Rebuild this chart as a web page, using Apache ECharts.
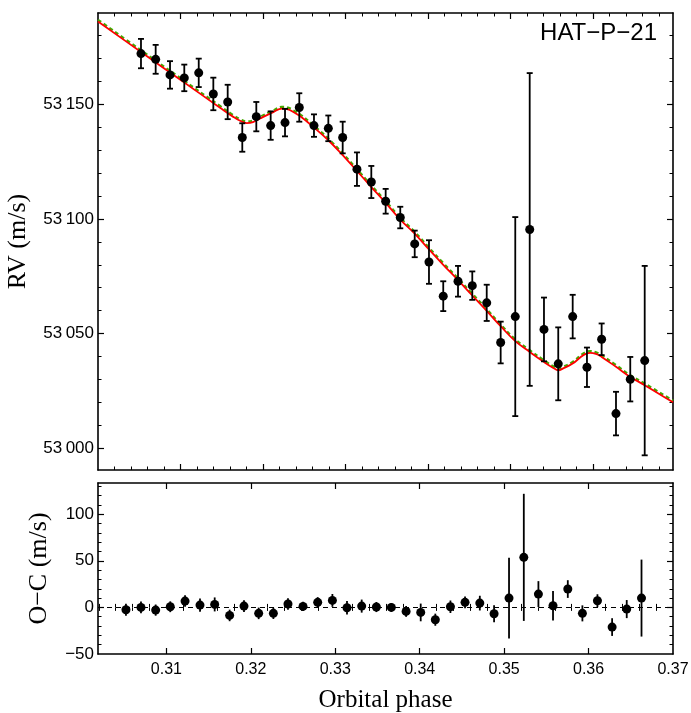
<!DOCTYPE html>
<html>
<head>
<meta charset="utf-8">
<script src="https://cdn.jsdelivr.net/npm/echarts@6/dist/echarts.min.js"></script>
<style>
  html, body { margin: 0; padding: 0; background: #fff; }
  #chart { width: 691px; height: 713px; }
</style>
</head>
<body>
<div id="chart"></div>
<script>
// observations (orbital phase, RV in m/s, 1-sigma error, O-C residual)
const phase = [0.30521, 0.30699, 0.30873, 0.31046, 0.31221, 0.31398, 0.31572, 0.31749, 0.31919,
  0.32093, 0.32267, 0.32440, 0.32618, 0.32792, 0.32966, 0.33139, 0.33313, 0.33487, 0.33664,
  0.33839, 0.34012, 0.34185, 0.34364, 0.34537, 0.34712, 0.34881, 0.35058, 0.35233, 0.35406,
  0.35579, 0.35754, 0.35927, 0.36105, 0.36279, 0.36452, 0.36627]
const rv = [53172.1, 53169.6, 53162.8, 53161.5, 53163.7, 53154.5, 53151.0, 53135.5, 53144.6,
  53140.7, 53142.0, 53148.6, 53140.7, 53139.5, 53135.5, 53121.7, 53116.1, 53107.7, 53100.6,
  53089.1, 53081.2, 53066.3, 53072.8, 53070.9, 53063.4, 53046.1, 53057.4, 53095.4, 53051.8,
  53036.8, 53057.4, 53035.3, 53047.5, 53015.1, 53030.1, 53038.2]
const rvErr = [6.4, 6.3, 6.0, 5.8, 6.2, 7.1, 7.5, 6.2, 6.4,
  6.2, 6.0, 6.2, 4.9, 5.6, 6.9, 7.3, 7.0, 5.4, 4.7,
  5.8, 9.5, 6.5, 6.7, 6.2, 7.9, 9.1, 43.4, 68.2, 13.9,
  15.9, 9.5, 8.6, 6.9, 9.5, 9.7, 41.3]
const oc = [-2.5, 0.0, -2.9, 0.7, 6.8, 2.5, 3.2, -8.6, 1.4,
  -6.4, -6.4, 3.6, 1.1, 5.4, 7.5, -0.4, 1.4, 0.4, 0.0,
  -4.3, -5.4, -13.2, 0.7, 5.4, 4.6, -6.8, 10.0, 53.7, 14.3,
  1.8, 19.7, -6.4, 7.2, -21.1, -1.8, 10.0]

// model curves (red solid, green dashed)
const modelPhase = [0.3000, 0.30509, 0.30994, 0.31479, 0.31640, 0.31721, 0.31802, 0.31879, 0.31964,
  0.32125, 0.32227, 0.32303, 0.32367, 0.32448, 0.32610, 0.32792, 0.32966, 0.33139, 0.33313,
  0.33487, 0.33664, 0.33839, 0.34012, 0.34185, 0.34364, 0.34537, 0.34712, 0.34881, 0.35058,
  0.35233, 0.35406, 0.35519, 0.35579, 0.35640, 0.35754, 0.35883, 0.35964, 0.36045, 0.36105,
  0.36279, 0.36452, 0.36627, 0.36970]
const modelRed = [53186.1, 53173.1, 53160.8, 53148.5, 53144.5, 53142.8, 53141.8, 53142.2, 53143.8,
  53146.6, 53148.1, 53147.8, 53146.6, 53144.9, 53140.1, 53134.3, 53127.8, 53120.9, 53113.9,
  53107.0, 53099.7, 53093.6, 53086.7, 53080.0, 53073.3, 53066.6, 53059.9, 53053.2, 53046.7,
  53042.0, 53037.6, 53035.0, 53034.0, 53034.8, 53036.9, 53040.6, 53041.6, 53041.0, 53039.8,
  53035.5, 53031.1, 53027.5, 53020.0]
const modelGreen = [53186.8, 53173.8, 53161.5, 53149.2, 53145.2, 53143.5, 53142.5, 53142.9, 53144.5,
  53147.3, 53148.8, 53148.5, 53147.3, 53145.6, 53140.8, 53135.0, 53128.5, 53121.6, 53114.6,
  53107.7, 53100.4, 53094.3, 53087.4, 53080.7, 53074.0, 53067.3, 53060.6, 53053.9, 53047.4,
  53042.7, 53038.3, 53035.7, 53034.7, 53035.5, 53037.6, 53041.3, 53042.3, 53041.7, 53040.5,
  53036.2, 53031.8, 53028.2, 53020.7]

// tick labels
const xTicks = [0.31, 0.32, 0.33, 0.34, 0.35, 0.36, 0.37]
const rvTicks = [53000, 53050, 53100, 53150]
const ocTicks = [-50, 0, 50, 100]

const chart = echarts.init(document.getElementById('chart'))

const topX = [0.3000, 0.3697]
const botX = [0.3019, 0.3700]
const topY = [52990.5, 53189.8]
const botY = [-50, 133.5]

const black = '#000'
const labelFont = { color: black, fontFamily: 'Liberation Sans, Arial, sans-serif', fontSize: 16 }

function minorsOf(range, step, majors) {
  const out = []
  for (let k = Math.ceil(range[0] / step - 1e-6); k * step <= range[1] + 1e-9; k++) {
    const v = +(k * step).toFixed(6)
    if (v <= range[0] || v >= range[1]) continue
    if (majors.some(m => Math.abs(m - v) < step / 10)) continue
    out.push(v)
  }
  return out
}
function inRange(vals, range) {
  return vals.filter(v => v > range[0] + 1e-9 && v < range[1] - 1e-9)
}

// major + minor tick axes on both sides of a frame
function frame(gridIndex, range, majors, step, sides, labelOpt, nameOpt) {
  const maj = inRange(majors, range)
  const mins = minorsOf(range, step, majors)
  const base = { type: 'value', gridIndex: gridIndex, min: range[0], max: range[1], splitLine: { show: false } }
  const axes = []
  sides.forEach((pos, i) => {
    axes.push(Object.assign({}, base, {
      position: pos,
      axisLine: { show: true, onZero: false, lineStyle: { color: black, width: 1.6 } },
      axisTick: { show: true, inside: true, length: 6, customValues: maj, lineStyle: { color: black, width: 1.2 } },
      axisLabel: i === 0 && labelOpt ? labelOpt : { show: false }
    }, i === 0 && nameOpt ? nameOpt : {}))
    axes.push(Object.assign({}, base, {
      position: pos,
      axisLine: { show: false },
      axisTick: { show: true, inside: true, length: 3.5, customValues: mins, lineStyle: { color: black, width: 1 } },
      axisLabel: { show: false }
    }))
  })
  return axes
}

const xAxes = [].concat(
  frame(0, topX, xTicks, 0.002, ['bottom', 'top'], null, null),
  frame(1, botX, xTicks, 0.002, ['bottom', 'top'], Object.assign({
    show: true, customValues: xTicks.filter(v => v <= botX[1]), margin: 8,
    formatter: v => v.toFixed(2)
  }, labelFont), {
    name: 'Orbital phase', nameLocation: 'middle', nameGap: 34,
    nameTextStyle: { color: black, fontFamily: 'Liberation Serif, Times New Roman, serif', fontSize: 25 }
  })
)
const yAxes = [].concat(
  frame(0, topY, rvTicks, 10, ['left', 'right'], Object.assign({
    show: true, customValues: rvTicks, margin: 4,
    formatter: v => String(v).replace(/(\d+)(\d{3})$/, '$1\u2009$2')
  }, labelFont, { fontSize: 17 }), {
    name: 'RV (m/s)', nameLocation: 'middle', nameGap: 67, nameRotate: 90,
    nameTextStyle: { color: black, fontFamily: 'Liberation Serif, Times New Roman, serif', fontSize: 26 }
  }),
  frame(1, botY, ocTicks, 10, ['left', 'right'], Object.assign({
    show: true, customValues: ocTicks, margin: 4,
    formatter: v => (v < 0 ? '\u2212' + (-v) : String(v))
  }, labelFont, { fontSize: 17 }), {
    name: 'O\u2212C (m/s)', nameLocation: 'middle', nameGap: 46, nameRotate: 90,
    nameTextStyle: { color: black, fontFamily: 'Liberation Serif, Times New Roman, serif', fontSize: 26 }
  })
)

function errorBar(capHalf) {
  return function (params, api) {
    const x = api.value(0)
    const lo = api.coord([x, api.value(1)])
    const hi = api.coord([x, api.value(2)])
    const style = { stroke: black, lineWidth: 1.8 }
    const kids = [{ type: 'line', shape: { x1: lo[0], y1: lo[1], x2: hi[0], y2: hi[1] }, style: style }]
    if (capHalf > 0) {
      kids.push({ type: 'line', shape: { x1: lo[0] - capHalf, y1: lo[1], x2: lo[0] + capHalf, y2: lo[1] }, style: style })
      kids.push({ type: 'line', shape: { x1: hi[0] - capHalf, y1: hi[1], x2: hi[0] + capHalf, y2: hi[1] }, style: style })
    }
    return { type: 'group', children: kids }
  }
}

const rvPts = phase.map((p, i) => [p, rv[i]])
const rvBars = phase.map((p, i) => [p, rv[i] - rvErr[i], rv[i] + rvErr[i]])
const ocPts = phase.map((p, i) => [p, oc[i]])
const ocBars = phase.map((p, i) => [p, oc[i] - rvErr[i], oc[i] + rvErr[i]])

chart.setOption({
  animation: false,
  backgroundColor: '#fff',
  grid: [
    { left: 98, top: 13, width: 575, height: 457, containLabel: false, outerBoundsMode: 'none' },
    { left: 98, top: 483, width: 575, height: 171, containLabel: false, outerBoundsMode: 'none' }
  ],
  xAxis: xAxes,
  yAxis: yAxes,
  graphic: [{
    type: 'text', right: 34, top: 21,
    style: { text: 'HAT\u2212P\u221221', fill: black, font: '24px "Liberation Sans", Arial, sans-serif' }
  }],
  series: [
    {
      type: 'line', xAxisIndex: 0, yAxisIndex: 0, showSymbol: false, smooth: 0.4,
      data: modelPhase.map((p, i) => [p, modelGreen[i]]),
      lineStyle: { color: '#44aa00', width: 2.4, type: [4, 3] }, z: 2
    },
    {
      type: 'line', xAxisIndex: 0, yAxisIndex: 0, showSymbol: false, smooth: 0.4,
      data: modelPhase.map((p, i) => [p, modelRed[i]]),
      lineStyle: { color: '#ff0000', width: 1.8 }, z: 3
    },
    {
      type: 'custom', xAxisIndex: 0, yAxisIndex: 0, renderItem: errorBar(3),
      data: rvBars, encode: { x: 0, y: [1, 2] }, z: 4
    },
    {
      type: 'scatter', xAxisIndex: 0, yAxisIndex: 0, symbolSize: 9,
      itemStyle: { color: black, opacity: 1 }, data: rvPts, z: 5
    },
    {
      type: 'custom', xAxisIndex: 4, yAxisIndex: 4, renderItem: errorBar(0),
      data: ocBars, encode: { x: 0, y: [1, 2] }, z: 4, clip: true
    },
    {
      type: 'scatter', xAxisIndex: 4, yAxisIndex: 4, symbolSize: 9,
      itemStyle: { color: black, opacity: 1 }, data: ocPts, z: 5,
      markLine: {
        silent: true, symbol: 'none', label: { show: false },
        lineStyle: { color: black, width: 1, type: [5, 4] },
        data: [{ yAxis: 0 }]
      }
    }
  ]
})
</script>
</body>
</html>
